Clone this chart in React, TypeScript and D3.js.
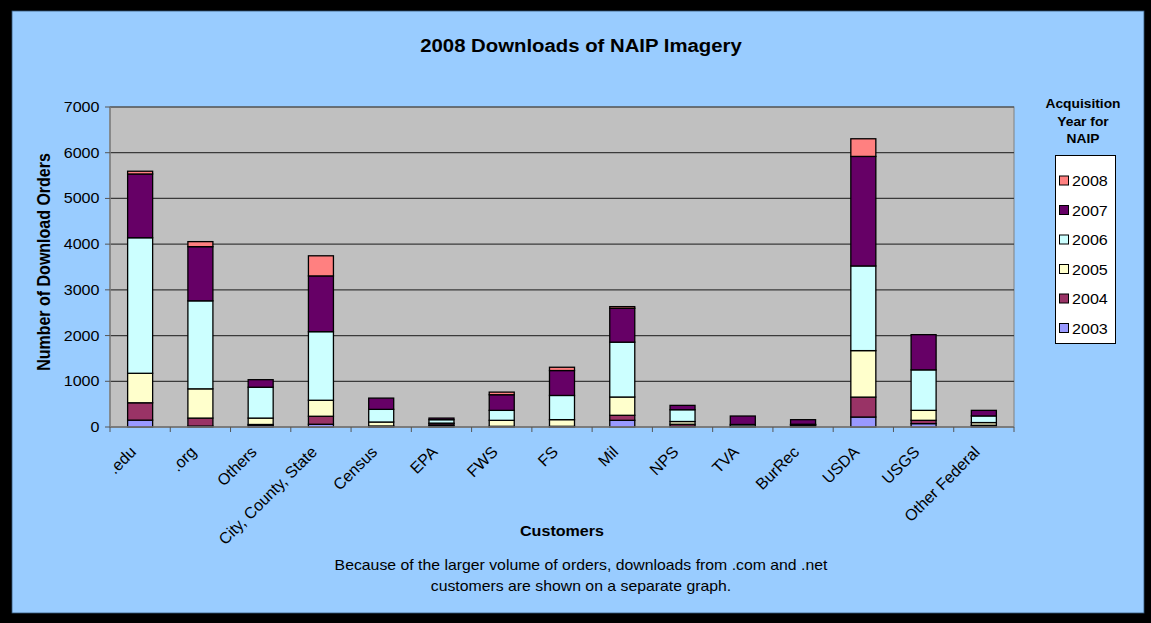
import React from "react";
import * as d3 from "d3";

const categories = [".edu", ".org", "Others", "City, County, State", "Census", "EPA", "FWS", "FS", "Mil", "NPS", "TVA", "BurRec", "USDA", "USGS", "Other Federal"];
const years = ["2003", "2004", "2005", "2006", "2007", "2008"];
const y2003 = [150, 20, 40, 60, 10, 30, 8, 8, 146, 15, 5, 15, 218, 74, 20];
const y2004 = [380, 175, 15, 175, 12, 40, 7, 7, 110, 45, 5, 25, 436, 72, 17];
const y2005 = [645, 640, 140, 350, 87, 15, 131, 146, 400, 60, 10, 10, 1017, 218, 60];
const y2006 = [2965, 1925, 675, 1500, 277, 75, 218, 529, 1200, 258, 35, 10, 1852, 886, 145];
const y2007 = [1395, 1185, 165, 1220, 246, 35, 342, 545, 740, 95, 185, 100, 2396, 770, 122];
const y2008 = [60, 110, 0, 440, 0, 0, 57, 72, 37, 0, 0, 0, 386, 0, 0];
const yTicks = [0, 1000, 2000, 3000, 4000, 5000, 6000, 7000];
const colors: Record<string, string> = {
  "2003": "#9999FF",
  "2004": "#993366",
  "2005": "#FFFFCC",
  "2006": "#CCFFFF",
  "2007": "#660066",
  "2008": "#FF8080",
};

const FONT = "'Liberation Sans', Arial, sans-serif";
const SX = 1.15;

function Txt(props: any) {
  const { x, y, size = 14, weight = "normal", anchor = "middle", sx = SX, children } = props;
  return (
    <text
      transform={`translate(${x},${y}) scale(${sx},1)`}
      fontSize={size}
      fontWeight={weight}
      textAnchor={anchor}
      fontFamily={FONT}
      fill="#000"
    >
      {children}
    </text>
  );
}

export default function App() {
  const W = 1151, H = 623;
  const left = 110, right = 1014, top = 107, bottom = 427;
  const series: Record<string, number[]> = { "2003": y2003, "2004": y2004, "2005": y2005, "2006": y2006, "2007": y2007, "2008": y2008 };
  const rows = categories.map((c, i) => {
    const r: any = { cat: c };
    years.forEach((yr) => (r[yr] = series[yr][i]));
    return r;
  });
  const stacked = d3.stack<any>().keys(years)(rows);
  const x = d3.scaleBand().domain(categories).range([left, right]).paddingInner(0.585).paddingOuter(0.2925);
  const y = d3.scaleLinear().domain([0, 7000]).range([bottom, top]);
  const step = (right - left) / categories.length;
  const legendYears = years.slice().reverse();

  return (
    <svg width={W} height={H} style={{ position: "absolute", left: 0, top: 0 }} xmlns="http://www.w3.org/2000/svg">
      <rect x={0} y={0} width={W} height={H} fill="#000" />
      <rect x={12} y={11} width={1132} height={602} fill="#99CCFF" stroke="#335577" strokeWidth={0.8} />
      {/* plot area */}
      <rect x={left} y={top} width={right - left} height={bottom - top} fill="#C0C0C0" stroke="#808080" strokeWidth={1} />
      {yTicks.map((t) => (
        <line key={"g" + t} x1={left} x2={right} y1={y(t)} y2={y(t)} stroke="#3a3a3a" strokeWidth={1.2} />
      ))}
      {/* bars */}
      {stacked.map((s) => (
        <g key={s.key} fill={colors[s.key]}>
          {s.map((d, i) =>
            d[1] - d[0] > 0 ? (
              <rect
                key={i}
                x={x(categories[i])}
                y={y(d[1])}
                width={x.bandwidth()}
                height={y(d[0]) - y(d[1])}
                stroke="#000"
                strokeWidth={1.3}
              />
            ) : null
          )}
        </g>
      ))}
      {/* axes */}
      <line x1={left} x2={left} y1={top} y2={bottom} stroke="#808080" strokeWidth={1.5} />
      <line x1={left} x2={right} y1={bottom} y2={bottom} stroke="#808080" strokeWidth={1.5} />
      {yTicks.map((t) => (
        <g key={"yt" + t}>
          <line x1={left - 5} x2={left} y1={y(t)} y2={y(t)} stroke="#555" strokeWidth={1} />
          <Txt x={99.5} y={y(t) + 5} anchor="end">{t}</Txt>
        </g>
      ))}
      {d3.range(categories.length + 1).map((i) => (
        <line key={"xt" + i} x1={left + i * step} x2={left + i * step} y1={bottom} y2={bottom + 5} stroke="#555" strokeWidth={1} />
      ))}
      {categories.map((c) => (
        <text
          key={"xl" + c}
          transform={`translate(${(x(c) as number) + x.bandwidth() / 2 - 3},${453}) rotate(-45)`}
          fontSize={16}
          textAnchor="end"
          fontFamily={FONT}
          fill="#000"
        >
          {c}
        </text>
      ))}
      {/* titles */}
      <Txt x={581} y={52} size={18} weight="bold" sx={1.13}>2008 Downloads of NAIP Imagery</Txt>
      <text transform="translate(50,262) rotate(-90) scale(1,1.15)" fontSize={16} fontWeight="bold" textAnchor="middle" fontFamily={FONT}>
        Number of Download Orders
      </text>
      <Txt x={562} y={536} size={14} weight="bold">Customers</Txt>
      <Txt x={581} y={570} size={14} sx={1.13}>Because of the larger volume of orders, downloads from .com and .net</Txt>
      <Txt x={581} y={591} size={14} sx={1.13}>customers are shown on a separate graph.</Txt>
      {/* legend */}
      <Txt x={1083} y={108} size={12} weight="bold">Acquisition</Txt>
      <Txt x={1083} y={126} size={12} weight="bold">Year for</Txt>
      <Txt x={1083} y={143} size={12} weight="bold">NAIP</Txt>
      <rect x={1055.5} y={155.5} width={60} height={188} fill="#fff" stroke="#000" strokeWidth={1} />
      {legendYears.map((yr, i) => {
        const cy = 180.5 + i * 29.5;
        return (
          <g key={"lg" + yr}>
            <rect x={1059.5} y={cy - 4.5} width={9} height={9} fill={colors[yr]} stroke="#000" strokeWidth={1} />
            <Txt x={1072} y={cy + 5.5} anchor="start" size={14}>{yr}</Txt>
          </g>
        );
      })}
    </svg>
  );
}
